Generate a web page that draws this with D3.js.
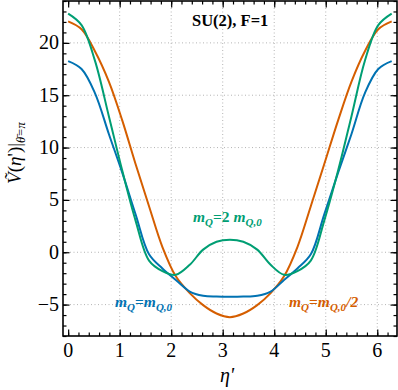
<!DOCTYPE html>
<html>
<head>
<meta charset="utf-8">
<script src="https://cdn.jsdelivr.net/npm/d3@7"></script>
<style>
  body { margin: 0; background: #fff; }
</style>
</head>
<body>
<div class="chart"></div>
<script>
// eta' sample points, 0 .. 2pi
var etas = [0, 0.26, 0.52, 0.79, 1.05, 1.31, 1.57, 1.83, 2.09, 2.36, 2.62, 2.88, 3.14,
  3.40, 3.67, 3.93, 4.19, 4.45, 4.71, 4.97, 5.24, 5.50, 5.76, 6.02, 6.28]

// m_Q = m_Q,0
var blueVals = [18.25, 17.5, 15.2, 11.3, 7.6, 3.6, -0.2, -1.55, -2.65, -3.75, -4.15, -4.23, -4.25,
  -4.23, -4.15, -3.75, -2.65, -1.55, -0.2, 3.6, 7.6, 11.3, 15.2, 17.5, 18.25]
// m_Q = m_Q,0 / 2
var orangeVals = [22.05, 21.3, 19.2, 16.3, 12.6, 8.4, 4.4, 0.5, -2.3, -3.9, -5.05, -5.85, -6.2,
  -5.85, -5.05, -3.9, -2.3, 0.5, 4.4, 8.4, 12.6, 16.3, 19.2, 21.3, 22.05]
// m_Q = 2 m_Q,0
var greenVals = [22.8, 21.7, 18.3, 13.0, 7.8, 3.0, -0.8, -1.8, -2.15, -1.2, 0.25, 1.0, 1.2,
  1.0, 0.25, -1.2, -2.15, -1.8, -0.8, 3.0, 7.8, 13.0, 18.3, 21.7, 22.8]

var xTicks = [0, 1, 2, 3, 4, 5, 6]
var yTicks = [-5, 0, 5, 10, 15, 20]

var serif = '"Liberation Serif", "Times New Roman", "DejaVu Serif", serif'

var width = 398,
  height = 390,
  pLeft = 63, pRight = 397, pTop = 1, pBottom = 336

var svg = d3.select('.chart')
  .append('svg')
  .attr('width', width)
  .attr('height', height)
  .style('font-family', serif)

var xScale = d3.scaleLinear()
  .domain([-0.1, 2 * Math.PI + 0.1])
  .range([pLeft, pRight])

var yScale = d3.scaleLinear()
  .domain([-8, 24])
  .range([pBottom, pTop])

// grid
svg.append('g').selectAll('line')
  .data(xTicks.filter(function(d) { return d > 0 }))
  .enter().append('line')
  .attr('x1', function(d) { return xScale(d) })
  .attr('x2', function(d) { return xScale(d) })
  .attr('y1', pTop).attr('y2', pBottom)
  .attr('stroke', '#b4b4b4').attr('stroke-width', 1)
  .attr('stroke-dasharray', '1,2.5')

svg.append('g').selectAll('line')
  .data(yTicks)
  .enter().append('line')
  .attr('y1', function(d) { return yScale(d) })
  .attr('y2', function(d) { return yScale(d) })
  .attr('x1', pLeft).attr('x2', pRight)
  .attr('stroke', '#b4b4b4').attr('stroke-width', 1)
  .attr('stroke-dasharray', '1,2.5')

// curves
var line = d3.line()
  .x(function(d) { return xScale(d[0]) })
  .y(function(d) { return yScale(d[1]) })
  .curve(d3.curveCatmullRom.alpha(0.5))

var series = [
  {vals: orangeVals, color: '#d55e00'},
  {vals: blueVals, color: '#0072b2'},
  {vals: greenVals, color: '#009e73'}
]

series.forEach(function(s) {
  svg.append('path')
    .datum(etas.map(function(e, i) { return [e, s.vals[i]] }))
    .attr('d', line)
    .attr('fill', 'none')
    .attr('stroke', s.color)
    .attr('stroke-width', 2)
})

// axes, ticks inward on all four sides
var xMinor = d3.range(0, 6.3, 0.2)
var yMinor = d3.range(-8, 24.5, 1)

function tickSet(f, tickVals, size) {
  svg.append('g')
    .attr('transform', f.t)
    .call(f.gen(f.s).tickValues(tickVals).tickSize(size).tickFormat(''))
}

var frames = [
  {gen: d3.axisBottom, t: 'translate(0,' + pBottom + ')', s: xScale, m: xMinor, M: xTicks},
  {gen: d3.axisTop, t: 'translate(0,' + pTop + ')', s: xScale, m: xMinor, M: xTicks},
  {gen: d3.axisLeft, t: 'translate(' + pLeft + ',0)', s: yScale, m: yMinor, M: yTicks},
  {gen: d3.axisRight, t: 'translate(' + pRight + ',0)', s: yScale, m: yMinor, M: yTicks}
]
frames.forEach(function(f) {
  tickSet(f, f.m, -3.5)
  tickSet(f, f.M, -6.5)
})

svg.selectAll('.domain').remove()
svg.selectAll('.tick line').attr('stroke', '#000').attr('stroke-width', 1.2)
svg.selectAll('.tick text').remove()

svg.append('rect')
  .attr('x', pLeft).attr('y', pTop)
  .attr('width', pRight - pLeft).attr('height', pBottom - pTop)
  .attr('fill', 'none').attr('stroke', '#000').attr('stroke-width', 1.6)

// tick labels
svg.append('g').selectAll('text')
  .data(xTicks)
  .enter().append('text')
  .attr('x', function(d) { return xScale(d) })
  .attr('y', 357)
  .attr('text-anchor', 'middle')
  .attr('font-family', serif)
  .attr('font-size', 20)
  .text(function(d) { return d })

svg.append('g').selectAll('text')
  .data(yTicks)
  .enter().append('text')
  .attr('x', 59)
  .attr('y', function(d) { return yScale(d) + 6.5 })
  .attr('text-anchor', 'end')
  .attr('font-family', serif)
  .attr('font-size', 20)
  .text(function(d) { return d < 0 ? '\u2212' + Math.abs(d) : d })

// axis titles
svg.append('text')
  .attr('x', 227).attr('y', 382)
  .attr('text-anchor', 'middle')
  .attr('font-family', serif)
  .attr('font-size', 20)
  .attr('font-style', 'italic')
  .text('\u03b7\'')

var yl = svg.append('text')
  .attr('transform', 'translate(21,153) rotate(-90)')
  .attr('text-anchor', 'middle')
  .attr('font-family', serif)
  .attr('font-size', 19)
yl.append('tspan').attr('font-style', 'italic').text('V\u0303')
yl.append('tspan').text('(')
yl.append('tspan').attr('font-style', 'italic').text('\u03b7')
yl.append('tspan').text('\')|')
yl.append('tspan').attr('font-size', 12.5).attr('dy', 4).attr('font-style', 'italic').text('\u03b8\u0304=\u03c0')

// title
svg.append('text')
  .attr('x', 192).attr('y', 26)
  .attr('font-family', serif)
  .attr('font-size', 16.5)
  .attr('font-weight', 'bold')
  .text('SU(2), F=1')

// curve labels
function massLabel(x, y, color, parts) {
  var t = svg.append('text')
    .attr('x', x).attr('y', y)
    .attr('fill', color)
    .attr('font-family', serif)
    .attr('font-size', 15.5)
    .attr('font-weight', 'bold')
  parts.forEach(function(p) {
    t.append('tspan')
      .attr('font-style', p.it ? 'italic' : 'normal')
      .attr('font-size', p.sub ? 11 : 15.5)
      .attr('dy', p.dy || 0)
      .text(p.s)
  })
}

massLabel(193, 222, '#009e73', [
  {s: 'm', it: 1}, {s: 'Q', it: 1, sub: 1, dy: 4}, {s: '=2 ', dy: -4},
  {s: 'm', it: 1}, {s: 'Q,0', it: 1, sub: 1, dy: 4}
])
massLabel(115, 307, '#0072b2', [
  {s: 'm', it: 1}, {s: 'Q', it: 1, sub: 1, dy: 4}, {s: '=', dy: -4},
  {s: 'm', it: 1}, {s: 'Q,0', it: 1, sub: 1, dy: 4}
])
massLabel(289, 307, '#d55e00', [
  {s: 'm', it: 1}, {s: 'Q', it: 1, sub: 1, dy: 4}, {s: '=', dy: -4},
  {s: 'm', it: 1}, {s: 'Q,0', it: 1, sub: 1, dy: 4}, {s: '/2', it: 1, dy: -4}
])
</script>
</body>
</html>
